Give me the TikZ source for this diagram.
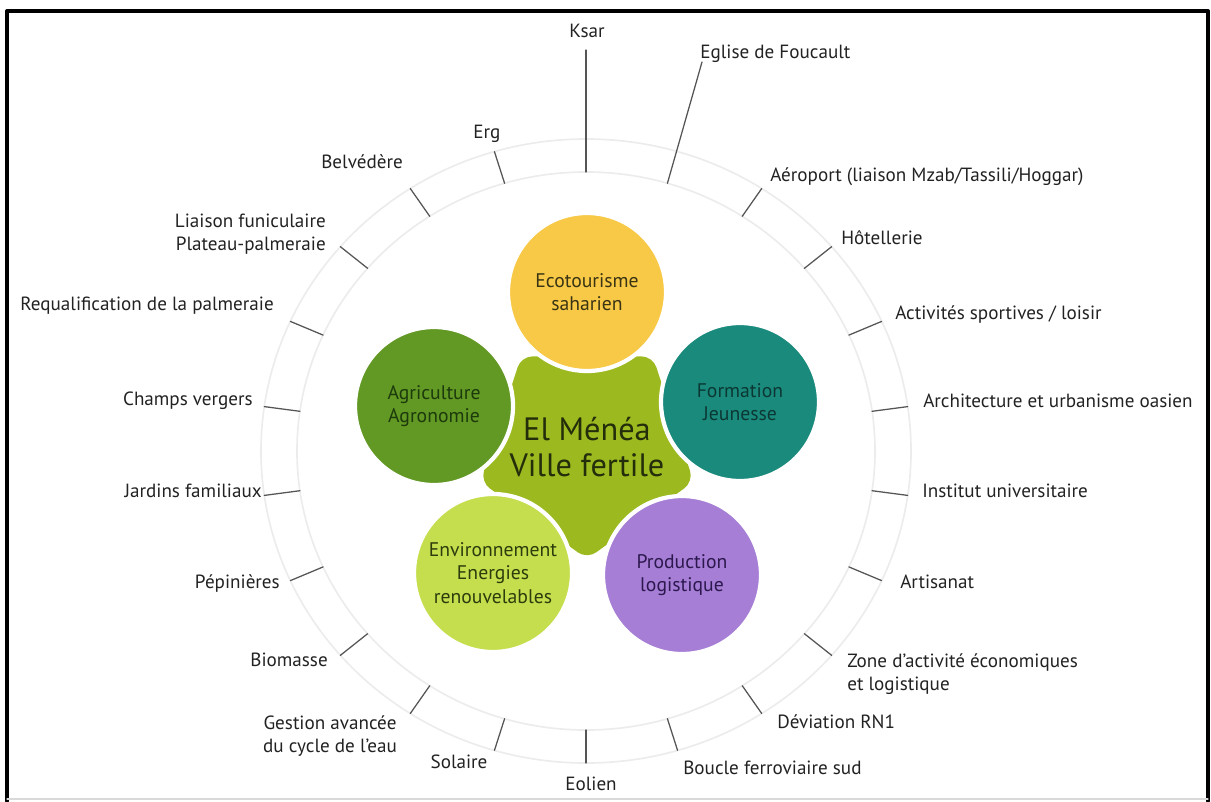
\documentclass[tikz,border=0pt]{standalone}
\usepackage{fontspec}
\setmainfont{PT Sans}
\usetikzlibrary{calc,shapes.geometric}

\definecolor{ecoyellow}{RGB}{248,201,70}
\definecolor{agrigreen}{RGB}{98,152,36}
\definecolor{formteal}{RGB}{26,138,124}
\definecolor{envlime}{RGB}{197,222,78}
\definecolor{prodpurple}{RGB}{166,126,214}
\definecolor{coreolive}{RGB}{156,186,32}
\definecolor{ringgray}{RGB}{236,236,236}
\definecolor{tickgray}{RGB}{85,85,85}
\definecolor{labelgray}{RGB}{34,34,34}
\definecolor{ecotext}{RGB}{58,52,20}
\definecolor{agritext}{RGB}{28,58,12}
\definecolor{formtext}{RGB}{12,56,52}
\definecolor{envtext}{RGB}{44,60,12}
\definecolor{prodtext}{RGB}{44,24,78}
\definecolor{hubtext}{RGB}{36,46,10}

\tikzset{
  lbl/.style={text=labelgray, inner sep=0pt, font=\fontsize{13.6}{16}\selectfont},
  tick/.style={draw=tickgray, line width=0.9pt},
  ring/.style={draw=ringgray, line width=1.2pt},
  bubble/.style={circle, draw=white, line width=3pt, minimum size=3.95cm,
    inner sep=0pt, align=center, font=\fontsize{14}{16.5}\selectfont},
  hub/.style={regular polygon, regular polygon sides=5, shape border rotate=180,
    fill=coreolive, minimum size=5.6cm, inner sep=0pt, rounded corners=8pt},
  hubname/.style={align=center, inner sep=0pt, text=hubtext,
    font=\fontsize{23}{26}\selectfont}
}

\begin{document}
\begin{tikzpicture}[x=0.25mm,y=-0.25mm,line cap=round,line join=round]
  \useasboundingbox (0,0) rectangle (1211,801);
  % frame
  \draw[line width=2.8pt] (7,801) -- (7,11) -- (1208,11) -- (1208,801);
  \draw[black!15, line width=0.8pt] (7,799) -- (1208,799);

  % ring and ticks
  \coordinate (C) at (586,451);
  \draw[ring] (C) ellipse [x radius=289, y radius=279];
  \draw[ring] (C) ellipse [x radius=325, y radius=312];
  \foreach \k in {0,...,21} {
    \pgfmathsetmacro{\ang}{\k*360/22-90}
    \coordinate (i\k) at ($(C)+(\ang:289 and 279)$);
    \coordinate (o\k) at ($(C)+(\ang:325 and 312)$);
  }
  \coordinate (ksartop) at (586,50);
  \coordinate (eglisetop) at (702,62);
  \draw[tick] (i0) -- (ksartop);
  \draw[tick] (i1) -- (eglisetop);
  \foreach \k in {2,...,21}
    \draw[tick] (i\k) -- (o\k);

  % labels, clockwise from the top
  \node[lbl, anchor=base] (ksar) at (587,37) {Ksar};
  \node[lbl, anchor=base west] (eglise) at (700,58) {Eglise de Foucault};
  \node[lbl, anchor=base west] (aeroport) at (770,181) {Aéroport (liaison Mzab/Tassili/Hoggar)};
  \node[lbl, anchor=base west] (hotel) at (841,244) {Hôtellerie};
  \node[lbl, anchor=base west] (sport) at (895,319) {Activités sportives / loisir};
  \node[lbl, anchor=base west] (archi) at (923,407) {Architecture et urbanisme oasien};
  \node[lbl, anchor=base west] (institut) at (922,497) {Institut universitaire};
  \node[lbl, anchor=base west] (artisanat) at (900,588) {Artisanat};
  \node[lbl, anchor=west, align=left] (zone) at (847,674) {Zone d’activité économiques\\et logistique};
  \node[lbl, anchor=base west] (deviation) at (777,728) {Déviation RN1};
  \node[lbl, anchor=base west] (boucle) at (683,774) {Boucle ferroviaire sud};
  \node[lbl, anchor=base] (eolien) at (591,790) {Eolien};
  \node[lbl, anchor=base] (solaire) at (459,768) {Solaire};
  \node[lbl, align=center] (gestion) at (330,736) {Gestion avancée\\du cycle de l’eau};
  \node[lbl, anchor=base east] (biomasse) at (328,666) {Biomasse};
  \node[lbl, anchor=base east] (pepi) at (280,588) {Pépinières};
  \node[lbl, anchor=base east] (jardins) at (262,497) {Jardins familiaux};
  \node[lbl, anchor=base east] (champs) at (253,405) {Champs vergers};
  \node[lbl, anchor=base east] (requal) at (274,310) {Requalification de la palmeraie};
  \node[lbl, anchor=east, align=right] (funi) at (326,234) {Liaison funiculaire\\Plateau-palmeraie};
  \node[lbl, anchor=base east] (belvedere) at (403,168) {Belvédère};
  \node[lbl, anchor=base] (erg) at (487,138) {Erg};

  % centre
  \node[hub] (hub) at (587,447) {};
  \node[hubname] (hubtitle) at (587,447) {El Ménéa\\Ville fertile};
  \node[bubble, fill=ecoyellow, text=ecotext] (eco) at (587,292) {Ecotourisme\\saharien};
  \node[bubble, fill=agrigreen, text=agritext] (agri) at (434,406) {Agriculture\\Agronomie};
  \node[bubble, fill=formteal, text=formtext] (form) at (740,402) {Formation\\Jeunesse};
  \node[bubble, fill=envlime, text=envtext] (env) at (493,573) {Environnement\\Energies\\renouvelables};
  \node[bubble, fill=prodpurple, text=prodtext] (prod) at (682,575) {Production\\logistique};
\end{tikzpicture}
\end{document}
